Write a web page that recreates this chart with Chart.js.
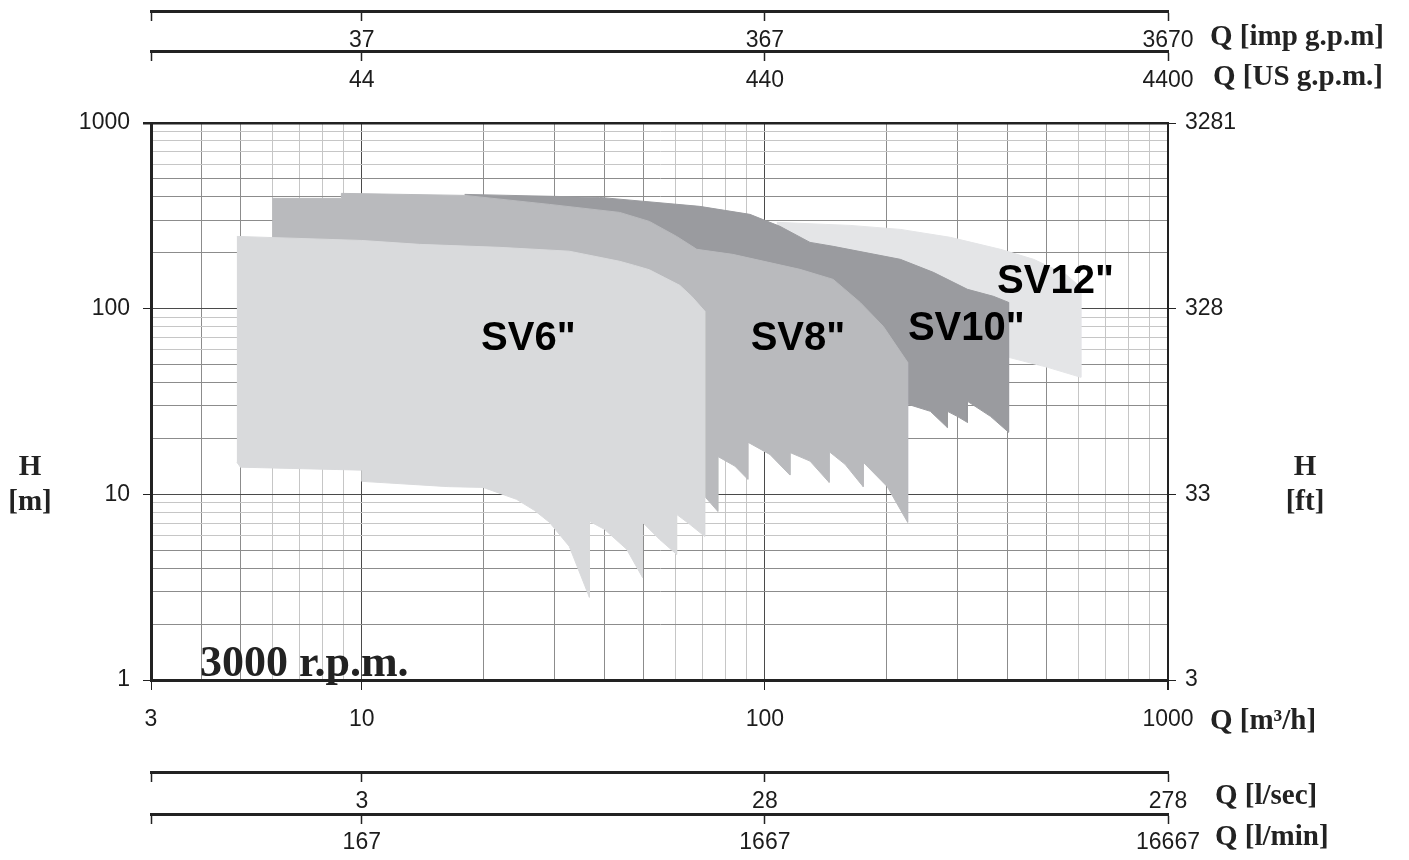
<!DOCTYPE html>
<html>
<head>
<meta charset="utf-8">
<script src="https://cdn.jsdelivr.net/npm/chart.js@4"></script>
<style>
body{margin:0;background:#fff;}
canvas{display:block;}
</style>
</head>
<body>
<canvas id="grafico" width="1409" height="860"></canvas>
<script>
// envolventes Q [m3/h] / H [m] (poligonos cerrados)
var sv6Q = [4.9, 10, 13.9, 21.9, 32.7, 43.6, 47.5, 51.7, 56.4, 61.5, 65.8, 70.9, 70.9, 65.1, 60.4, 60.4, 54.8, 49.7, 49.7, 45.4, 40.0, 36.7, 36.7, 32.7, 29.2, 26.8, 24.2, 20.0, 16.4, 10.0, 10.0, 5.0, 4.9];
var sv6H = [245, 233, 222, 214, 204, 180, 171, 162, 147, 133.5, 116.5, 97, 5.94, 6.9, 7.8, 4.75, 5.72, 7.07, 3.57, 5.06, 6.48, 7.16, 2.79, 5.25, 7.07, 8.2, 9.4, 10.9, 11.0, 11.75, 13.5, 14.0, 14.9];

var sv8Q = [6.0, 8.9, 8.9, 18.0, 29.2, 43.6, 51.7, 60.4, 67.8, 83.2, 122.2, 147.7, 172.3, 196.6, 226, 226, 201.2, 175.3, 175.3, 158.1, 144.3, 144.3, 129.4, 115.4, 115.4, 102.9, 90.7, 90.7, 84.2, 76.4, 76.4, 70.9, 40, 6.0];
var sv8H = [392.6, 392.6, 417.8, 407.5, 364.5, 330, 295, 245, 208.7, 196.1, 162.8, 143.8, 108.1, 80.3, 51.4, 7.07, 11.0, 14.9, 11.0, 14.5, 17.0, 11.6, 15.1, 16.8, 12.7, 16.4, 19.1, 12.05, 14.2, 16.0, 8.1, 9.75, 40, 60];

var sv10Q = [18.0, 38.9, 68.9, 91.8, 109.0, 129.4, 147.7, 216.7, 261.8, 318.1, 369.1, 402.3, 402.3, 362.8, 318.1, 318.1, 300, 283.6, 283.6, 257.3, 226.9, 120, 18.0];
var sv10H = [412.6, 397.5, 355.6, 322.0, 277.5, 227.5, 216.6, 184.4, 156.9, 127.1, 116.5, 108.1, 21.6, 26.3, 31.7, 24.4, 26.3, 28.0, 22.9, 28.0, 30.5, 50, 100];

var sv12Q = [107.1, 162.7, 216.7, 288.6, 384.2, 464.2, 557.7, 607.7, 607.7, 502.9, 402.3, 250, 107.1];
var sv12H = [291.6, 280.9, 267.3, 242.1, 208.7, 184.4, 153.0, 130.3, 42.7, 48.3, 54.7, 80, 150];

// ticks de los ejes
var qTicks = [3, 10, 100, 1000];
var qLabels = ['3', '10', '100', '1000'];
var impLabels = ['', '37', '367', '3670'];
var usLabels = ['', '44', '440', '4400'];
var lsecLabels = ['', '3', '28', '278'];
var lminLabels = ['', '167', '1667', '16667'];
var hTicks = [1, 10, 100, 1000];
var hLabels = ['1', '10', '100', '1000'];
var ftLabels = ['3', '33', '328', '3281'];

// rotulos de cada serie (posicion en Q/H)
var rotulos = [
  {texto: 'SV6"', q: 25.9, h: 68.4},
  {texto: 'SV8"', q: 120.8, h: 68.4},
  {texto: 'SV10"', q: 316, h: 77.4},
  {texto: 'SV12"', q: 526, h: 138.6}
];

// altura (en H) donde van los ejes de caudal extra
var posImp = 3990, posUS = 2430, posLsec = 0.318, posLmin = 0.189;

var fuenteTicks = {family: "'Liberation Sans', Arial, sans-serif", size: 23};
var negro = '#1c1c1c';

function rejilla(min, max) {
  var t = [];
  for (var d = 1; d <= max; d *= 10) {
    for (var k = 1; k < 10; k++) {
      var v = k * d;
      if (v >= min && v <= max) t.push(v);
    }
  }
  return t;
}

function etiqueta(v, ticks, labels) {
  var i = ticks.indexOf(v);
  return i < 0 ? '' : labels[i];
}

function colorRejilla(v, max) {
  if (v === max) return '#222';
  var m = Math.round(v / Math.pow(10, Math.floor(Math.log10(v) + 1e-9)));
  if (m === 1) return '#4a4a4a';
  if (m <= 5) return '#8c8c8c';
  return '#c6c6c6';
}

function envolvente(nombre, q, h, color) {
  return {
    label: nombre,
    data: q.map(function(v, i){ return {x: v, y: h[i]}; }),
    backgroundColor: color,
    borderColor: color,
    borderWidth: 1,
    pointRadius: 0,
    tension: 0,
    fill: 'shape'
  };
}

function ejeExtra(labels, pos) {
  return {
    type: 'logarithmic',
    position: {y: pos},
    min: 3, max: 1000,
    afterBuildTicks: function(s){ s.ticks = qTicks.map(function(v){ return {value: v}; }); },
    ticks: {
      autoSkip: false, maxRotation: 0, padding: 7, font: fuenteTicks, color: negro,
      callback: function(v){ return etiqueta(v, qTicks, labels); }
    },
    grid: {drawOnChartArea: false, tickLength: 8, tickColor: '#222', tickWidth: 1.5},
    border: {color: '#222', width: 3}
  };
}

var textos = {
  id: 'textos',
  afterDatasetsDraw: function(chart) {
    var ctx = chart.ctx, sx = chart.scales.x, sy = chart.scales.y, a = chart.chartArea;
    ctx.save();
    ctx.fillStyle = '#000';
    ctx.textAlign = 'center';
    ctx.textBaseline = 'middle';
    ctx.font = 'bold 40px "Liberation Sans", Arial, sans-serif';
    rotulos.forEach(function(r){
      ctx.fillText(r.texto, sx.getPixelForValue(r.q), sy.getPixelForValue(r.h));
    });

    ctx.fillStyle = '#222';
    ctx.textAlign = 'left';
    ctx.textBaseline = 'alphabetic';
    ctx.font = 'bold 44px "Liberation Serif", "Times New Roman", serif';
    ctx.fillText('3000 r.p.m.', a.left + 49, a.bottom - 4);

    ctx.textBaseline = 'middle';
    ctx.font = 'bold 29px "Liberation Serif", "Times New Roman", serif';
    ctx.fillText('Q [imp g.p.m]', 1210, 38);
    ctx.fillText('Q [US g.p.m.]', 1213, 78);
    ctx.fillText('Q [m\u00b3/h]', 1210, 722);
    ctx.fillText('Q [l/sec]', 1215, 797);
    ctx.fillText('Q [l/min]', 1215, 838);

    ctx.textAlign = 'center';
    ctx.fillText('H', 30, 468);
    ctx.fillText('[m]', 30, 503);
    ctx.fillText('H', 1305, 468);
    ctx.fillText('[ft]', 1305, 503);
    ctx.restore();
  }
};

var ctx = document.getElementById('grafico');
var grafico = new Chart(ctx, {
  type: 'line',
  data: {
    datasets: [
      envolvente('SV6"', sv6Q, sv6H, '#d9dadc'),
      envolvente('SV8"', sv8Q, sv8H, '#b9babd'),
      envolvente('SV10"', sv10Q, sv10H, '#9a9b9f'),
      envolvente('SV12"', sv12Q, sv12H, '#e4e5e7')
    ]
  },
  options: {
    responsive: false,
    animation: false,
    events: [],
    layout: {padding: {top: 123, left: 0, right: 0, bottom: 0}},
    plugins: {legend: {display: false}, tooltip: {enabled: false}},
    scales: {
      x: {
        type: 'logarithmic',
        position: 'bottom',
        min: 3, max: 1000,
        afterBuildTicks: function(s){ s.ticks = rejilla(3, 1000).map(function(v){ return {value: v}; }); },
        afterFit: function(s){ s.height = 180; },
        ticks: {
          autoSkip: false, maxRotation: 0, padding: 16, font: fuenteTicks, color: negro,
          callback: function(v){ return etiqueta(v, qTicks, qLabels); }
        },
        grid: {
          color: function(c){ return colorRejilla(c.tick.value, 1000); },
          lineWidth: function(c){ return c.tick.value === 1000 ? 2 : 1; },
          tickLength: 10,
          tickColor: function(c){ return qTicks.indexOf(c.tick.value) < 0 ? 'rgba(0,0,0,0)' : '#222'; }
        },
        border: {color: '#222', width: 3}
      },
      y: {
        type: 'logarithmic',
        position: 'left',
        min: 1, max: 1000,
        afterBuildTicks: function(s){ s.ticks = rejilla(1, 1000).map(function(v){ return {value: v}; }); },
        afterFit: function(s){ s.width = 151; },
        ticks: {
          autoSkip: false, padding: 13, font: fuenteTicks, color: negro,
          callback: function(v){ return etiqueta(v, hTicks, hLabels); }
        },
        grid: {
          color: function(c){ return colorRejilla(c.tick.value, 1000); },
          lineWidth: function(c){ return c.tick.value === 1000 ? 2.5 : 1; },
          tickLength: 8,
          tickColor: function(c){ return hTicks.indexOf(c.tick.value) < 0 ? 'rgba(0,0,0,0)' : '#222'; }
        },
        border: {color: '#222', width: 3}
      },
      y2: {
        type: 'logarithmic',
        position: 'right',
        min: 1, max: 1000,
        afterBuildTicks: function(s){ s.ticks = hTicks.map(function(v){ return {value: v}; }); },
        afterFit: function(s){ s.width = 241; },
        ticks: {
          autoSkip: false, padding: 9, font: fuenteTicks, color: negro,
          callback: function(v){ return etiqueta(v, hTicks, ftLabels); }
        },
        grid: {drawOnChartArea: false, tickLength: 8, tickColor: '#222'},
        border: {color: '#222', width: 2}
      },
      ximp: ejeExtra(impLabels, posImp),
      xus: ejeExtra(usLabels, posUS),
      xlsec: ejeExtra(lsecLabels, posLsec),
      xlmin: ejeExtra(lminLabels, posLmin)
    }
  },
  plugins: [textos]
});
</script>
</body>
</html>
